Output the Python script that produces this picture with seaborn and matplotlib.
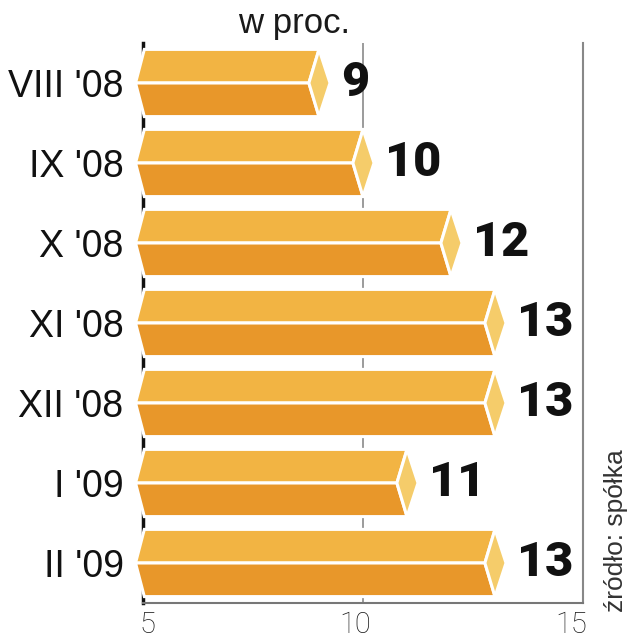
import matplotlib
matplotlib.use("Agg")
import matplotlib.pyplot as plt
from matplotlib.patches import Polygon
from matplotlib.transforms import ScaledTranslation
import seaborn as sns

# ---- data ----
categories = ["VIII '08", "IX '08", "X '08", "XI '08", "XII '08", "I '09", "II '09"]
values = [9, 10, 12, 13, 13, 11, 13]
x_ticks = [5, 10, 15]
title_text = "w proc."
source_text = "źródło: spółka"

TOP_C = "#F2B443"
BOT_C = "#E8972A"
CAP_C = "#F5CC6A"

sns.set_theme(style="white")
plt.rcParams["font.family"] = ["Liberation Sans", "DejaVu Sans"]

fig = plt.figure(figsize=(6.33, 6.40), dpi=100)
ax = fig.add_axes([143 / 633, 1 - 603 / 640, 440 / 633, 560 / 640])

sns.barplot(x=values, y=categories, orient="h", width=0.84, ax=ax, color=TOP_C)

ax.set_xlim(5, 15)
x_start = ax.get_xlim()[0]
ind = 0.23   # indent of front face end
tip = 0.25   # cap tip length
ltip = 0.17  # left tip length

for p, v in zip(ax.patches, values):
    p.set_visible(False)
    y0 = p.get_y()
    h = p.get_height()
    yc = y0 + h / 2
    y1 = y0 + h
    top = Polygon([(x_start - ltip, yc), (x_start + 0.03, y0), (v, y0), (v - ind, yc)],
                  closed=True, facecolor=TOP_C, edgecolor="white", lw=2.2,
                  clip_on=False, zorder=3, joinstyle="miter")
    bot = Polygon([(x_start - ltip, yc), (x_start + 0.03, y1), (v, y1), (v - ind, yc)],
                  closed=True, facecolor=BOT_C, edgecolor="white", lw=2.2,
                  clip_on=False, zorder=3, joinstyle="miter")
    cap = Polygon([(v, y0), (v + tip, yc), (v, y1), (v - ind, yc)],
                  closed=True, facecolor=CAP_C, edgecolor="white", lw=2.2,
                  clip_on=False, zorder=3, joinstyle="miter")
    for poly in (top, bot, cap):
        ax.add_patch(poly)
    ax.text(v + 0.5, yc, f"{v}", ha="left", va="center", fontsize=35,
            fontweight="black", family=["Roboto", "DejaVu Sans"], color="#111111",
            zorder=4)

# reference line at 10
ax.axvline(10, color="#8a8a8a", lw=1.2, zorder=1)

# spines
ax.spines["top"].set_visible(False)
ax.spines["left"].set_color("#111111")
ax.spines["left"].set_linewidth(2.5)
ax.spines["left"].set_zorder(1)
ax.spines["bottom"].set_color("#777777")
ax.spines["bottom"].set_linewidth(1.5)
ax.spines["right"].set_color("#888888")
ax.spines["right"].set_linewidth(1.5)

ax.set_xticks(x_ticks)
ax.set_xticklabels([str(t) for t in x_ticks], fontsize=21, fontweight="light",
                   family=["Roboto", "DejaVu Sans"], color="#1a1a1a")
ax.tick_params(axis="x", length=0, pad=6)
ax.tick_params(axis="y", length=0, pad=14, labelsize=27, labelcolor="#111111")
ax.set_xlabel("")
ax.set_ylabel("")

# small horizontal nudges of x tick labels as in the reference
for lab, dx in zip(ax.get_xticklabels(), [4, -8, -12]):
    lab.set_transform(lab.get_transform() + ScaledTranslation(dx / 100, 0, fig.dpi_scale_trans))

fig.text(294 / 633, 1 - 33 / 640, title_text, ha="center", va="baseline",
         fontsize=25, color="#1a1a1a")
fig.text(616 / 633, 1 - 612 / 640, source_text, ha="center", va="bottom",
         rotation=90, fontsize=19, color="#333333")

fig.savefig("out.png", dpi=100)
